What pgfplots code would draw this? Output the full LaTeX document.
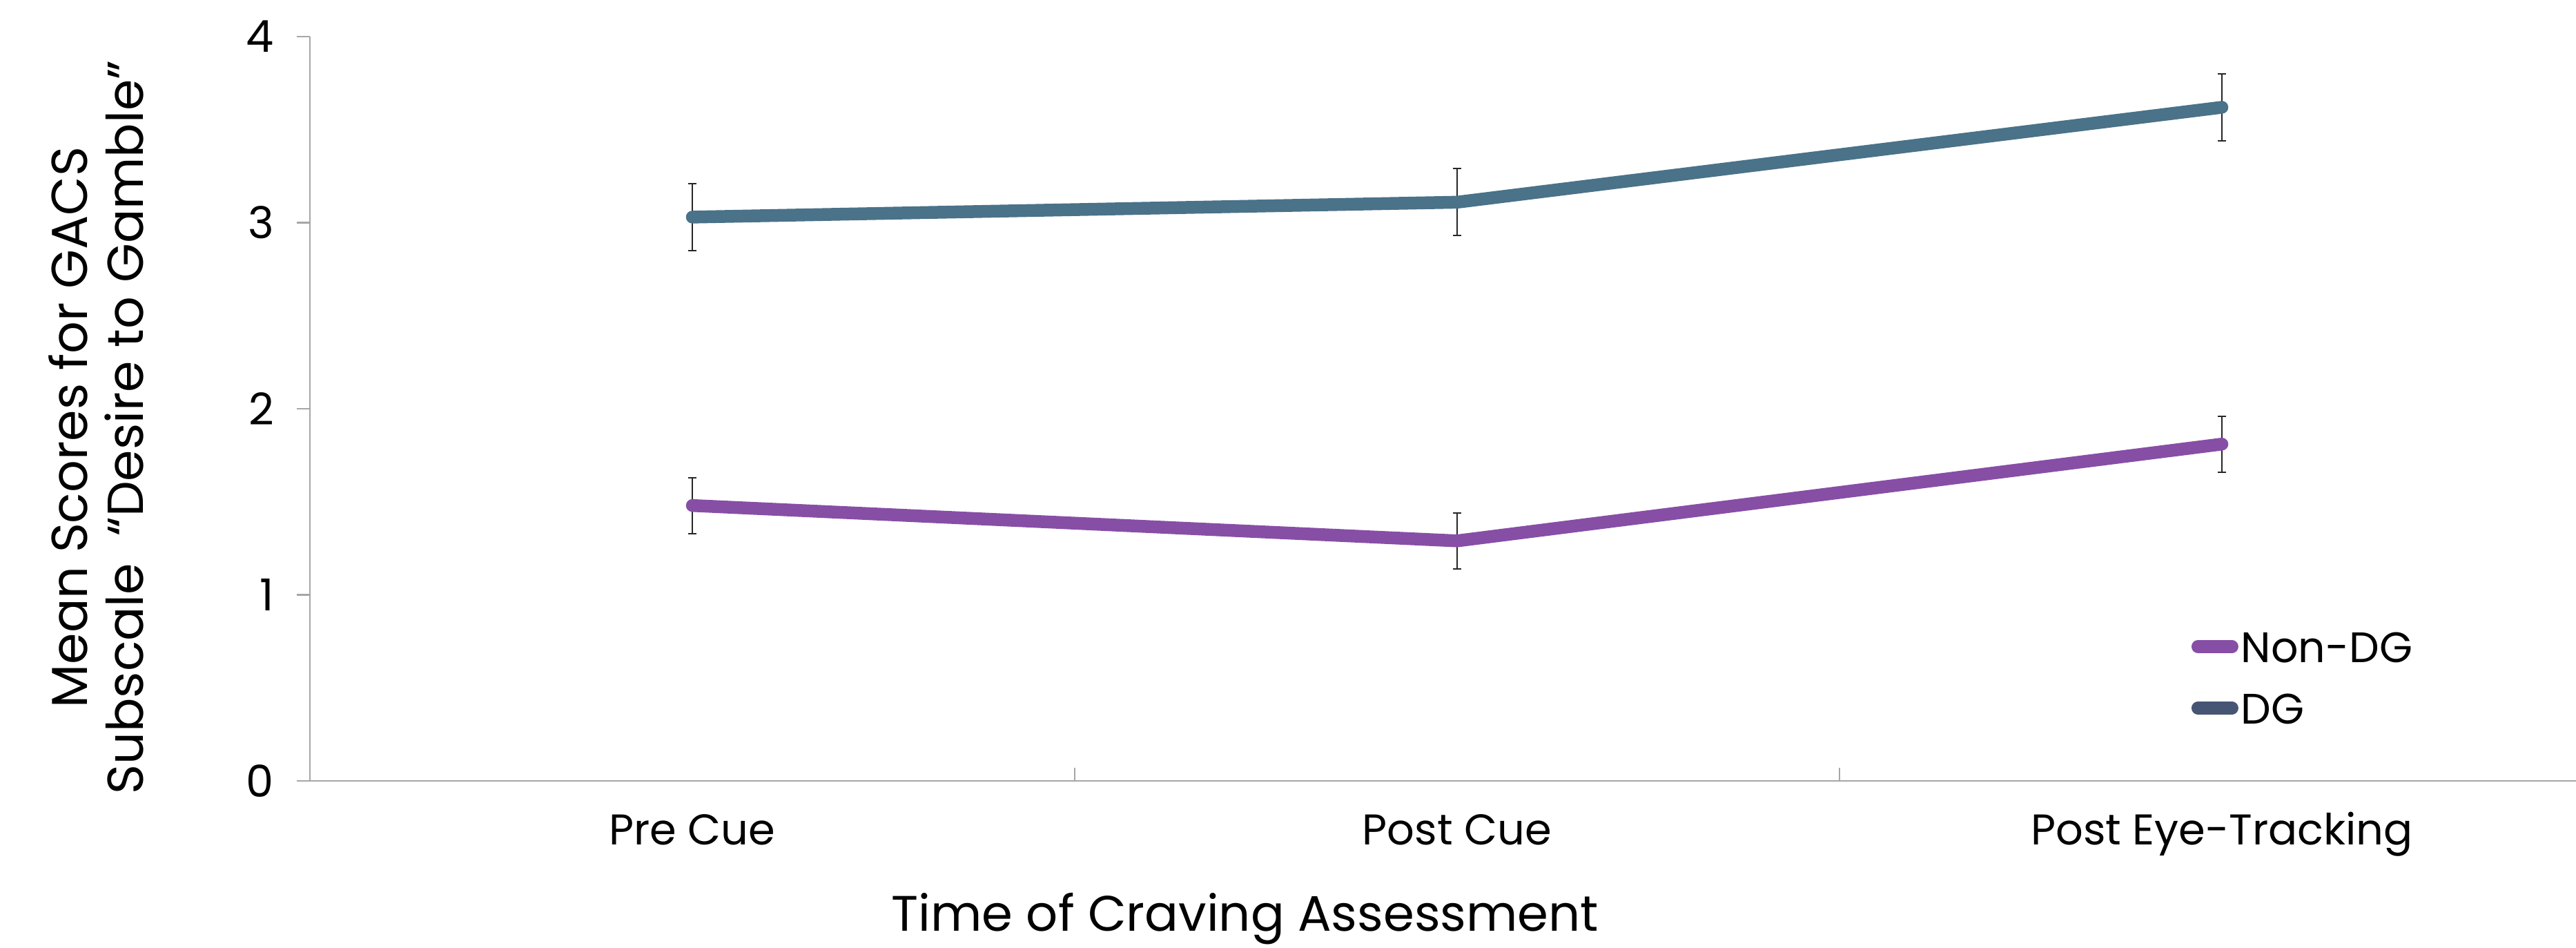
\documentclass[border=0pt]{standalone}
\usepackage{fontspec}
\setmainfont{Poppins}
\usepackage{pgfplots}
\pgfplotsset{compat=1.18}
\definecolor{dgline}{HTML}{4A7289}
\definecolor{ndgline}{HTML}{874EA6}
\definecolor{dgleg}{HTML}{465573}
\definecolor{axgray}{HTML}{A6A6A6}
\definecolor{errc}{HTML}{262626}
\pgfplotstableread{
x  dg    dge   ndg   ndge
0  3.03  0.18  1.48  0.15
1  3.11  0.18  1.29  0.15
2  3.62  0.18  1.81  0.15
}\datatab
\begin{document}
\begin{tikzpicture}
\useasboundingbox (-89.8bp,-48.4bp) rectangle (656.6bp,226.2bp);
\begin{axis}[
  at={(0,0)}, anchor=south west,
  scale only axis, width=656.6bp, height=215.6bp,
  xmin=-0.5, xmax=2.463, ymin=0, ymax=4,
  axis x line=bottom, axis y line=left,
  axis line style={axgray, line width=0.5bp, -},
  tick align=outside, major tick length=3.8bp,
  tick style={axgray, line width=0.5bp},
  xtick={0.5,1.5}, xticklabels={},
  x tick style={yshift=3.8bp},
  extra x ticks={0,1,2},
  extra x tick labels={Pre Cue, Post Cue, Post Eye-Tracking},
  extra x tick style={major tick length=0pt, tick style={draw=none}},
  xticklabel style={font=\fontsize{12.5}{14}\selectfont, anchor=base, yshift=-18.4bp, inner sep=0pt},
  ytick={0,1,2,3,4},
  /pgf/number format/assume math mode=true,
  yticklabel style={font=\fontsize{12.8}{14}\selectfont, inner sep=0pt, anchor=east, xshift=-6.4bp},
  xlabel={Time of Craving Assessment},
  xlabel style={font=\fontsize{14.5}{16}\selectfont, at={(axis description cs:0.4127,0)}, anchor=base, yshift=-43.4bp, inner sep=0pt},
  ylabel={Mean Scores for GACS\\Subscale\ \ “Desire to Gamble”},
  ylabel style={font=\fontsize{14.7}{16.2}\selectfont, align=center, at={(axis description cs:-0.0943,0.475)}, anchor=center, rotate=0, inner sep=0pt},
  clip=false,
  legend cell align=left,
  legend style={draw=none, fill=none, at={(rel axis cs:0.8303,0.2013)}, anchor=north west,
    inner sep=0pt, outer sep=0pt, row sep=8.8bp, column sep=0.8bp,
    font=\fontsize{12.4}{14}\selectfont,
    nodes={inner sep=0pt, text height=9bp, text depth=0bp}},
  legend image code/.code={\draw[#1, line width=3.7bp, line cap=round] (1.85bp,0bp) -- (11.75bp,0bp);},
]
% error bars first (beneath lines)
\addplot[draw=none, mark=none, forget plot,
  error bars/.cd, y dir=both, y explicit,
  error bar style={draw=errc, line width=0.4bp},
  error mark options={draw=errc, line width=0.4bp, mark size=1.2bp, rotate=90}]
  table[x=x, y=dg, y error=dge] {\datatab};
\addplot[draw=none, mark=none, forget plot,
  error bars/.cd, y dir=both, y explicit,
  error bar style={draw=errc, line width=0.4bp},
  error mark options={draw=errc, line width=0.4bp, mark size=1.2bp, rotate=90}]
  table[x=x, y=ndg, y error=ndge] {\datatab};
% lines
\addplot[ndgline, line width=3.7bp, line cap=round, line join=round, mark=none, forget plot]
  table[x=x, y=ndg] {\datatab};
\addplot[dgline, line width=3.7bp, line cap=round, line join=round, mark=none, forget plot]
  table[x=x, y=dg] {\datatab};
\addlegendimage{ndgline}
\addlegendentry{Non-DG}
\addlegendimage{dgleg}
\addlegendentry{DG}
\end{axis}
\end{tikzpicture}
\end{document}
